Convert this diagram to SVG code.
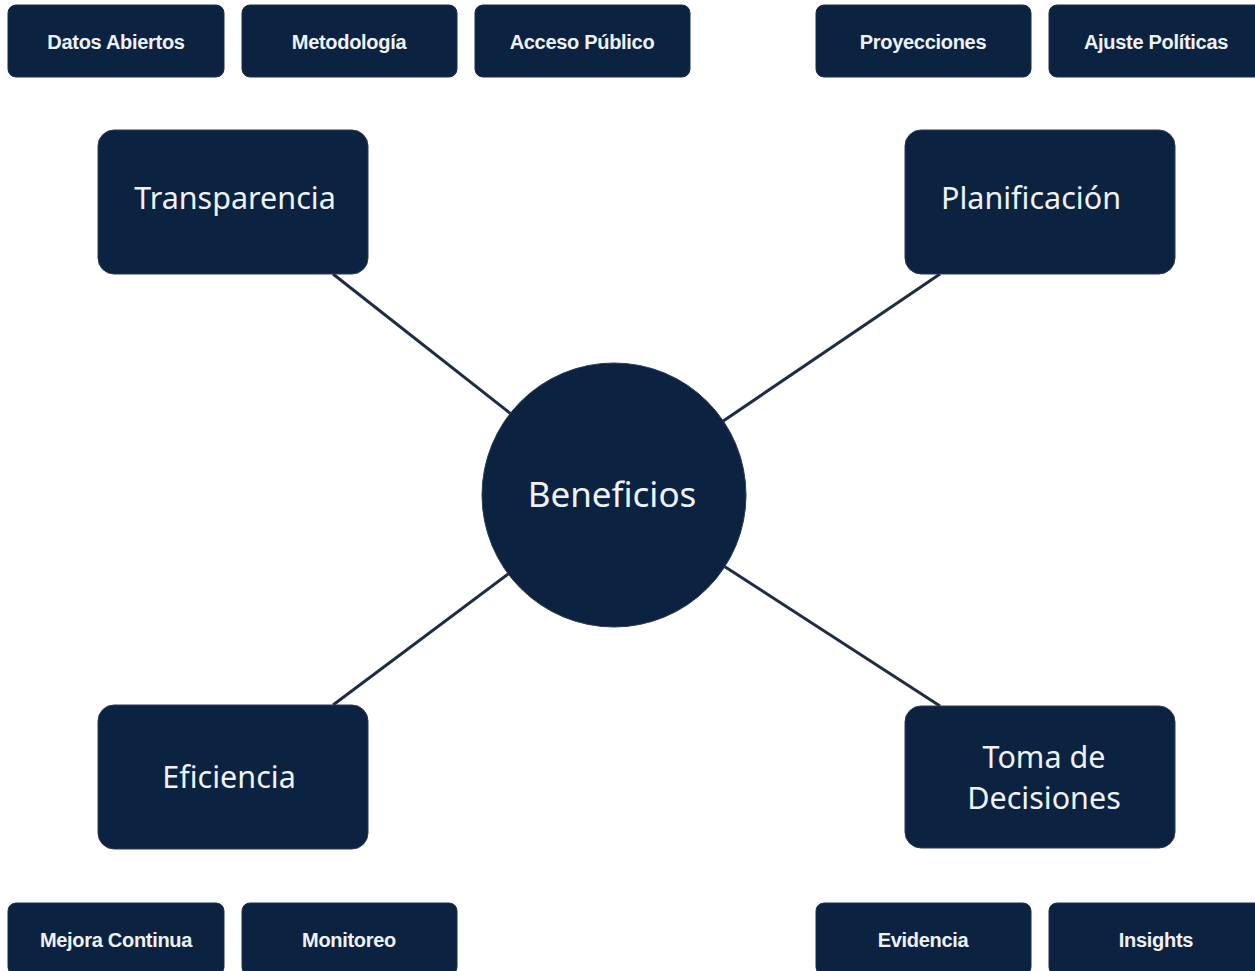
<svg xmlns="http://www.w3.org/2000/svg" width="1255" height="971" viewBox="0 0 1255 971">
<defs>
<style>
.small rect{fill:#0c2241;stroke:#1b2f4c;stroke-width:1}
.small text{fill:#eef2f7;font-family:"Liberation Sans",Arial,sans-serif;font-weight:bold;font-size:20px;letter-spacing:-0.3px;text-anchor:middle}
.big rect{fill:#0c2241;stroke:#2a3b55;stroke-width:1}
.big text{fill:#eef2f7;font-family:"Noto Sans","Open Sans",sans-serif;font-size:30.5px;text-anchor:middle}
.big text.center{font-size:35px}
.conn line{stroke:#1e2d45;stroke-width:3}
</style>
</defs>
<rect width="1255" height="971" fill="#ffffff"/>
<g id="connectors" class="conn">
<line x1="333" y1="274" x2="614" y2="495"/>
<line x1="940" y1="274" x2="614" y2="495"/>
<line x1="333" y1="705" x2="614" y2="495"/>
<line x1="940" y1="706" x2="614" y2="495"/>
</g>
<g id="datos-abiertos" class="small"><rect x="8" y="5" width="216" height="72" rx="8"/><text x="116" y="49">Datos Abiertos</text></g>
<g id="metodologia" class="small"><rect x="242" y="5" width="215" height="72" rx="8"/><text x="349" y="49">Metodología</text></g>
<g id="acceso-publico" class="small"><rect x="475" y="5" width="215" height="72" rx="8"/><text x="582" y="49">Acceso Público</text></g>
<g id="proyecciones" class="small"><rect x="816" y="5" width="215" height="72" rx="8"/><text x="923" y="49">Proyecciones</text></g>
<g id="ajuste-politicas" class="small"><rect x="1049" y="5" width="215" height="72" rx="8"/><text x="1156" y="49">Ajuste Políticas</text></g>
<g id="transparencia" class="big"><rect x="98" y="130" width="270" height="144" rx="16"/><text x="235" y="209">Transparencia</text></g>
<g id="planificacion" class="big"><rect x="905" y="130" width="270" height="144" rx="16"/><text x="1031" y="209">Planificación</text></g>
<g id="beneficios" class="big"><circle cx="614" cy="495" r="132" fill="#0c2241" stroke="#2a3b55" stroke-width="1"/><text class="center" x="612" y="507">Beneficios</text></g>
<g id="eficiencia" class="big"><rect x="98" y="705" width="270" height="144" rx="16"/><text x="229" y="788">Eficiencia</text></g>
<g id="toma-decisiones" class="big"><rect x="905" y="706" width="270" height="142" rx="16"/><text x="1044" y="768">Toma de</text><text x="1044" y="809">Decisiones</text></g>
<g id="mejora-continua" class="small"><rect x="8" y="903" width="216" height="72" rx="8"/><text x="116" y="947">Mejora Continua</text></g>
<g id="monitoreo" class="small"><rect x="242" y="903" width="215" height="72" rx="8"/><text x="349" y="947">Monitoreo</text></g>
<g id="evidencia" class="small"><rect x="816" y="903" width="215" height="72" rx="8"/><text x="923" y="947">Evidencia</text></g>
<g id="insights" class="small"><rect x="1049" y="903" width="215" height="72" rx="8"/><text x="1156" y="947">Insights</text></g>
</svg>
